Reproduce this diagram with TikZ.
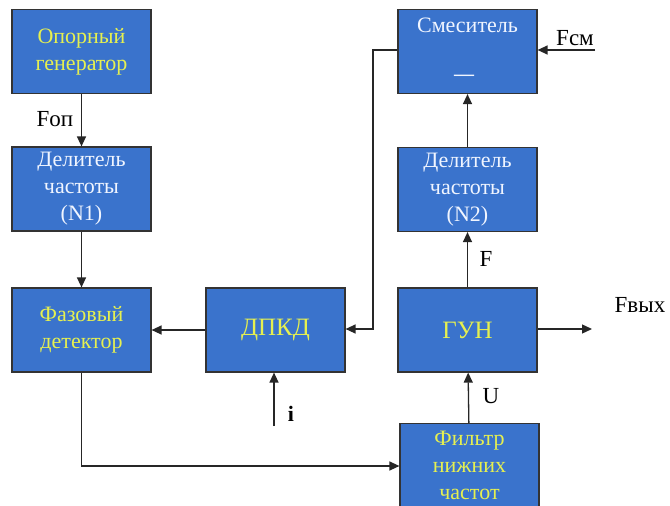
\documentclass[tikz,border=0pt]{standalone}
\usepackage{fontspec}
\setmainfont{Liberation Serif}
\newfontfamily\boxfont{Liberation Serif}
\usetikzlibrary{arrows.meta}
\definecolor{boxblue}{RGB}{58,115,204}
\definecolor{txtyellow}{RGB}{230,240,80}
\definecolor{txtwhite}{RGB}{240,245,255}
\begin{document}
\begin{tikzpicture}[x=1pt,y=-1pt,
  blk/.style={draw=black!80,line width=1.2pt,fill=boxblue,minimum width=139pt,minimum height=84pt,
    inner sep=0pt,align=center,font=\boxfont\fontsize{22}{27}\selectfont},
  big/.style={font=\boxfont\fontsize{25}{27}\selectfont},
  ylw/.style={text=txtyellow},
  wht/.style={text=txtwhite},
  conn/.style={draw=black!85,line width=1.3pt},
  arr/.style={conn,-{Triangle[length=10pt,width=9pt]}},
  lbl/.style={font=\boxfont\fontsize{23}{24}\selectfont,text=black}]
\useasboundingbox (0,0) rectangle (670,506);
\clip (0,0) rectangle (670,506);
\fill[white] (0,0) rectangle (670,506);
% boxes
\node[blk,ylw] (og) at (81.5,51.5) {Опорный\\генератор};
\node[blk,wht] (d1) at (81.5,189) {Делитель\\частоты\\(N1)};
\node[blk,ylw] (fd) at (81.5,330) {Фазовый\\детектор};
\node[blk,ylw,big] (dp) at (275.5,330) {ДПКД};
\node[blk] (sm) at (467.5,51.5) {};
\node[wht,font=\boxfont\fontsize{22}{24}\selectfont,inner sep=0pt] (smt) at (467.5,25) {Смеситель};
\node[wht,font=\boxfont\bfseries\fontsize{20}{24}\selectfont,inner sep=0pt] (smd) at (464,78) {—};
\node[blk,wht] (d2) at (467.5,189.5) {Делитель\\частоты\\(N2)};
\node[blk,ylw,big] (gun) at (467.5,330) {ГУН};
\node[blk,ylw] (fn) at (469.5,465.5) {Фильтр\\нижних\\частот};
% coordinates
\coordinate (fcmin) at (595,50);
\coordinate (fout) at (592,329);
\coordinate (iin) at (274,426);
% connectors
\draw[arr] (og) -- (d1);
\draw[arr] (d1) -- (fd);
\draw[arr] (dp) -- (fd);
\draw[arr] (sm.west |- 0,50) -- (373,50) -- (373,329) -- (dp.east |- 0,329);
\draw[arr] (fcmin) -- (sm.east |- fcmin);
\draw[arr] (d2) -- (sm);
\draw[arr] (gun) -- (d2);
\draw[arr] (gun.east |- fout) -- (fout);
\draw[arr] (fn) -- (gun);
\draw[arr] (iin) -- (iin |- dp.south);
\draw[arr] (fd.south) -- (81.5,466) -- (fn.west |- 0,466);
% labels
\node[lbl] (lop) at (55,119) {Fоп};
\node[lbl] (lcm) at (575,38) {Fсм};
\node[lbl] (lf) at (486,259) {F};
\node[lbl] (lout) at (640,305) {Fвых};
\node[lbl] (lu) at (491,396) {U};
\node[lbl,font=\boxfont\bfseries\fontsize{22}{24}\selectfont] (li) at (291,414) {i};
\end{tikzpicture}
\end{document}
